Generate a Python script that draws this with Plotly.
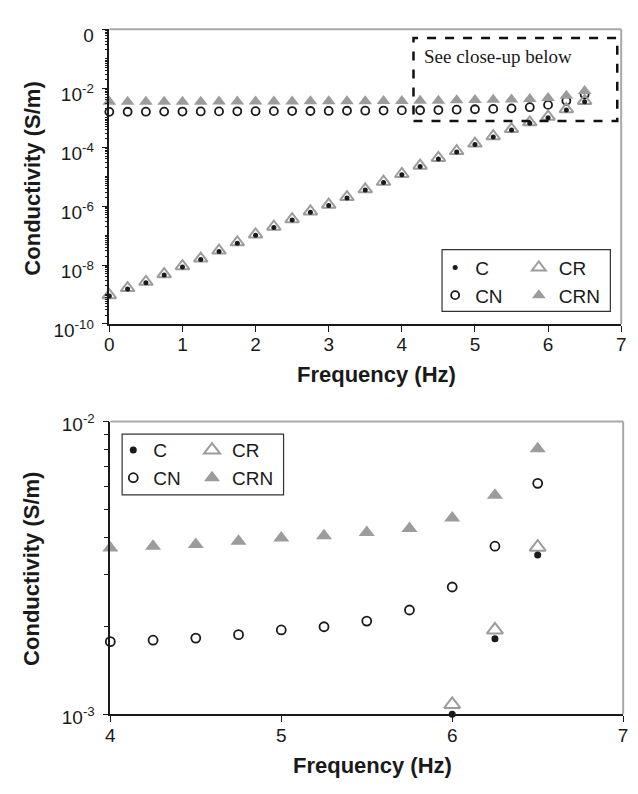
import numpy as np
import plotly.graph_objects as go

# ---------------- data ----------------
freq = [0.0, 0.25, 0.5, 0.75, 1.0, 1.25, 1.5, 1.75, 2.0, 2.25, 2.5, 2.75, 3.0,
        3.25, 3.5, 3.75, 4.0, 4.25, 4.5, 4.75, 5.0, 5.25, 5.5, 5.75, 6.0, 6.25, 6.5]

cond_C = [8.9e-10, 1.55e-9, 2.5e-9, 4.6e-9, 8.5e-9, 1.55e-8, 2.9e-8, 5.5e-8, 1.02e-7,
          1.86e-7, 3.4e-7, 6.2e-7, 1.05e-6, 1.9e-6, 3.5e-6, 6.3e-6, 1.15e-5, 2.2e-5,
          4.0e-5, 6.9e-5, 1.23e-4, 2.2e-4, 3.8e-4, 6.5e-4, 1.0e-3, 1.81e-3, 3.5e-3]

cond_CR = [9.5e-10, 1.65e-9, 2.7e-9, 4.9e-9, 9.1e-9, 1.66e-8, 3.1e-8, 5.9e-8, 1.09e-7,
           2.0e-7, 3.6e-7, 6.6e-7, 1.12e-6, 2.03e-6, 3.7e-6, 6.7e-6, 1.23e-5, 2.35e-5,
           4.3e-5, 7.4e-5, 1.32e-4, 2.35e-4, 4.1e-4, 7.0e-4, 1.08e-3, 1.94e-3, 3.72e-3]

cond_CN = [1.58e-3, 1.59e-3, 1.60e-3, 1.61e-3, 1.62e-3, 1.63e-3, 1.64e-3, 1.65e-3, 1.66e-3,
           1.67e-3, 1.68e-3, 1.69e-3, 1.70e-3, 1.72e-3, 1.73e-3, 1.75e-3, 1.77e-3, 1.79e-3,
           1.82e-3, 1.87e-3, 1.94e-3, 1.99e-3, 2.08e-3, 2.27e-3, 2.72e-3, 3.75e-3, 6.15e-3]

cond_CRN = [3.45e-3, 3.46e-3, 3.47e-3, 3.48e-3, 3.49e-3, 3.50e-3, 3.52e-3, 3.53e-3, 3.54e-3,
            3.56e-3, 3.57e-3, 3.59e-3, 3.61e-3, 3.63e-3, 3.65e-3, 3.68e-3, 3.70e-3, 3.75e-3,
            3.80e-3, 3.90e-3, 4.00e-3, 4.07e-3, 4.18e-3, 4.31e-3, 4.68e-3, 5.60e-3, 8.07e-3]

series_names = ["CN", "CRN", "CR", "C"]          # drawing order
top_y_tickvals = [1e-10, 1e-8, 1e-6, 1e-4, 1e-2, 1]
top_y_ticktext = ["10<sup>-10</sup>", "10<sup>-8</sup>", "10<sup>-6</sup>",
                  "10<sup>-4</sup>", "10<sup>-2</sup>", "0"]
bot_y_tickvals = [1e-3, 1e-2]
bot_y_ticktext = ["10<sup>-3</sup>", "10<sup>-2</sup>"]
x_title = "Frequency (Hz)"
y_title = "Conductivity (S/m)"
note_text = "See close-up below"

# ---------------- styling ----------------
data = {"C": cond_C, "CR": cond_CR, "CN": cond_CN, "CRN": cond_CRN}
GRAY = "#9c9c9c"
DARK = "#1a1a1a"
style = {
    "C":   dict(symbol="circle", color=DARK, line=dict(width=0)),
    "CN":  dict(symbol="circle-open", color=DARK, line=dict(width=1.8, color=DARK)),
    "CR":  dict(symbol="triangle-up-open", color=GRAY, line=dict(width=2, color=GRAY)),
    "CRN": dict(symbol="triangle-up", color=GRAY, line=dict(width=0)),
}
size_top = {"C": 5, "CN": 8, "CR": 12, "CRN": 12}
size_bot = {"C": 7, "CN": 9, "CR": 14, "CRN": 14}
rank = {"C": 1, "CN": 2, "CR": 3, "CRN": 4}
legend_top = {"C": "legend", "CN": "legend", "CR": "legend2", "CRN": "legend2"}
legend_bot = {"C": "legend3", "CN": "legend3", "CR": "legend4", "CRN": "legend4"}

W, H = 638, 794
def px(x):
    return x / W
def py(y):
    return 1 - y / H

fig = go.Figure()
f = np.array(freq)
for name in series_names:
    v = np.array(data[name])
    fig.add_trace(go.Scatter(
        x=f, y=v, mode="markers", name=name, xaxis="x", yaxis="y",
        marker=dict(size=size_top[name], **style[name]),
        legend=legend_top[name], legendrank=rank[name], cliponaxis=False))
for name in series_names:
    v = np.array(data[name])
    m = (f >= 4) & (v >= 0.99e-3)
    fig.add_trace(go.Scatter(
        x=f[m], y=v[m], mode="markers", name=name, xaxis="x2", yaxis="y2",
        marker=dict(size=size_bot[name], **style[name]),
        legend=legend_bot[name], legendrank=rank[name], cliponaxis=False))

tickfont = dict(family="Liberation Sans, Arial, sans-serif", size=19, color=DARK)
axis_common = dict(showline=True, linecolor=DARK, linewidth=1.5, showgrid=False,
                   zeroline=False, ticks="outside", ticklen=6, tickwidth=1.2,
                   tickcolor=DARK, tickfont=tickfont)

minor_top = [m * 10.0 ** e for e in range(-10, 0) for m in range(2, 10)]
minor_top += [10.0 ** e for e in range(-9, 0, 2)]
minor_bot = [m * 1e-3 for m in range(2, 10)]

xd_top = [px(106), px(626)]
yd_top = [py(325), py(20)]
xd_bot = [px(107), px(628)]
yd_bot = [py(729), py(426)]

fig.update_layout(
    width=W, height=H, margin=dict(l=0, r=0, t=0, b=0),
    paper_bgcolor="white", plot_bgcolor="white",
    xaxis=dict(domain=xd_top, anchor="y", range=[0, 7], tickmode="linear",
               tick0=0, dtick=1, ticklabelstandoff=-3, **axis_common),
    yaxis=dict(domain=yd_top, anchor="x", type="log", range=[-10, 0],
               tickmode="array", tickvals=top_y_tickvals, ticktext=top_y_ticktext,
               ticklabelstandoff=4, ticklabelshift=6,
               minor=dict(tickmode="array", tickvals=minor_top, ticks="outside",
                          ticklen=3, tickcolor=DARK, tickwidth=1),
               **axis_common),
    xaxis2=dict(domain=xd_bot, anchor="y2", range=[4, 7], tickmode="linear",
                tick0=4, dtick=1, ticklabelstandoff=-3, **axis_common),
    yaxis2=dict(domain=yd_bot, anchor="x2", type="log", range=[-3, -2],
                tickmode="array", tickvals=bot_y_tickvals, ticktext=bot_y_ticktext,
                ticklabelstandoff=4, ticklabelshift=3,
                minor=dict(tickmode="array", tickvals=minor_bot, ticks="outside",
                           ticklen=5, tickcolor=DARK, tickwidth=1),
                **axis_common),
)

legfont = dict(family="Liberation Sans, Arial, sans-serif", size=19, color=DARK)
def leg(x, y):
    return dict(x=x, y=y, xanchor="left", yanchor="top", bgcolor="rgba(0,0,0,0)",
                borderwidth=0, font=legfont, orientation="v", tracegroupgap=0,
                itemwidth=30)
fig.update_layout(
    legend=leg(px(437), py(247)),
    legend2=leg(px(522), py(247)),
    legend3=leg(px(110), py(436)),
    legend4=leg(px(190), py(436)),
)

shapes = []
for (xd, yd) in [(xd_top, yd_top), (xd_bot, yd_bot)]:
    shapes.append(dict(type="line", xref="paper", yref="paper", x0=xd[0], x1=xd[1],
                       y0=yd[1], y1=yd[1], line=dict(color="#a8a8a8", width=2)))
    shapes.append(dict(type="line", xref="paper", yref="paper", x0=xd[1], x1=xd[1],
                       y0=yd[0], y1=yd[1], line=dict(color="#a8a8a8", width=2)))
shapes.append(dict(type="rect", xref="paper", yref="paper", x0=px(444), x1=px(615),
                   y0=py(312), y1=py(248), line=dict(color="#333", width=1.2)))
shapes.append(dict(type="rect", xref="paper", yref="paper", x0=px(119), x1=px(283),
                   y0=py(502), y1=py(439), line=dict(color="#333", width=1.2)))
shapes.append(dict(type="rect", xref="paper", yref="paper", x0=px(415), x1=px(622),
                   y0=py(115), y1=py(29), line=dict(color="#111", width=2.5, dash="dash")))
fig.update_layout(shapes=shapes)

titlefont = dict(family="Liberation Sans, Arial, sans-serif", size=22, color=DARK)
ann = [
    dict(text="<b>%s</b>" % x_title, x=px(377), y=py(377), xref="paper", yref="paper",
         showarrow=False, font=titlefont, xanchor="center", yanchor="middle"),
    dict(text="<b>%s</b>" % x_title, x=px(373), y=py(782), xref="paper", yref="paper",
         showarrow=False, font=titlefont, xanchor="center", yanchor="middle"),
    dict(text="<b>%s</b>" % y_title, x=px(27), y=py(175), xref="paper", yref="paper",
         showarrow=False, font=titlefont, textangle=-90, xanchor="center", yanchor="middle"),
    dict(text="<b>%s</b>" % y_title, x=px(27), y=py(579), xref="paper", yref="paper",
         showarrow=False, font=titlefont, textangle=-90, xanchor="center", yanchor="middle"),
    dict(text=note_text, x=px(424), y=py(48), xref="paper", yref="paper",
         showarrow=False, xanchor="left", yanchor="middle",
         font=dict(family="Liberation Serif, Times New Roman, serif", size=19, color=DARK)),
]
fig.update_layout(annotations=ann)

fig.write_html("out.html")
